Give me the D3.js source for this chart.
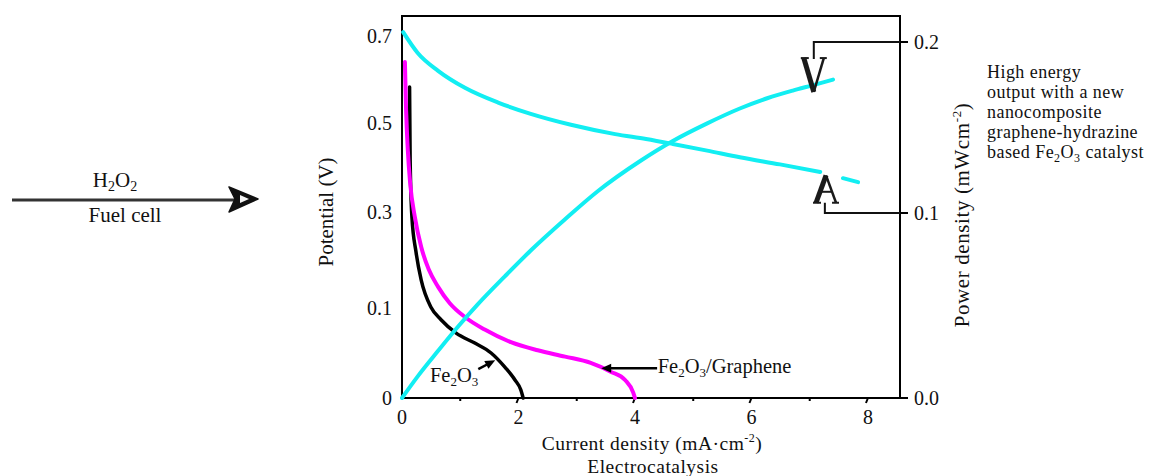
<!DOCTYPE html>
<html>
<head>
<meta charset="utf-8">
<script src="https://cdn.jsdelivr.net/npm/d3@7"></script>
<style>
  body { margin: 0; background: #fff; }
  text { font-family: "Liberation Serif", "Times New Roman", serif; fill: #111; }
</style>
</head>
<body>
<div id="chart"></div>
<script>
// values
var currentTicks = [0, 2, 4, 6, 8];
var potentialTicks = [0, 0.1, 0.3, 0.5, 0.7];
var powerTicks = [0.0, 0.1, 0.2];

// polarization curve (cyan, left axis)
var polCurrent   = [0.02, 0.27, 0.62, 1.08, 1.65, 2.21, 2.90, 3.66, 4.19, 4.65, 5.24, 5.80, 6.49, 7.18];
var polPotential = [0.709, 0.661, 0.620, 0.581, 0.547, 0.521, 0.496, 0.475, 0.464, 0.453, 0.438, 0.423, 0.407, 0.390];
var polTailCurrent   = [7.57, 7.83];
var polTailPotential = [0.376, 0.367];

// power density curve (cyan, right axis)
var powCurrent = [0.0, 0.27, 0.62, 0.96, 1.30, 1.77, 2.21, 2.80, 3.36, 4.09, 4.65, 5.24, 5.80, 6.27, 6.71, 7.06, 7.40];
var powDensity = [0.0, 0.0117, 0.0255, 0.0385, 0.0506, 0.0659, 0.0797, 0.0966, 0.1127, 0.1304, 0.1421, 0.1524, 0.1611, 0.1671, 0.1716, 0.1748, 0.1780];

// Fe2O3/Graphene (magenta)
var grapheneCurrent   = [0.05, 0.07, 0.10, 0.14, 0.22, 0.33, 0.46, 0.62, 0.82, 1.08, 1.42, 1.87, 2.33, 2.80, 3.24, 3.59, 3.83, 3.97, 4.00];
var graphenePotential = [0.640, 0.530, 0.439, 0.365, 0.290, 0.227, 0.180, 0.144, 0.110, 0.090, 0.076, 0.062, 0.053, 0.046, 0.039, 0.029, 0.020, 0.006, 0];

// Fe2O3 (black)
var fe2o3Current   = [0.13, 0.14, 0.17, 0.24, 0.33, 0.50, 0.67, 0.93, 1.25, 1.53, 1.77, 1.94, 2.04, 2.08];
var fe2o3Potential = [0.583, 0.417, 0.290, 0.217, 0.158, 0.101, 0.087, 0.072, 0.061, 0.050, 0.034, 0.020, 0.009, 0];

var W = 1163, H = 476;
var plot = {left: 402, top: 16, width: 498, height: 382};

var svg = d3.select("#chart").append("svg")
    .attr("width", W).attr("height", H);

var x = d3.scaleLinear().domain([0, 8.55]).range([plot.left, plot.left + plot.width]);
// the printed left axis is not evenly spaced, so map each label to where it sits
var yL = d3.scaleLinear().domain(potentialTicks)
    .range([382, 292, 196, 107, 20].map(function(d){ return plot.top + d; }));
var yR = d3.scaleLinear().domain(powerTicks)
    .range([382, 197, 26].map(function(d){ return plot.top + d; }));

function zip(a, b){ return a.map(function(d, i){ return [d, b[i]]; }); }

// rich text with sub/superscripts
function rich(sel, parts, small){
  var shift = 0;
  parts.forEach(function(p){
    var want = p.sub ? 4 : (p.sup ? -8 : 0);
    var ts = sel.append("tspan").attr("dy", want - shift).text(p.t);
    if (p.sub || p.sup) ts.style("font-size", small + "px");
    shift = want;
  });
}

// ---- left decoration: H2O2 fuel cell arrow
var deco = svg.append("g");
deco.append("line")
  .attr("x1", 12).attr("y1", 200).attr("x2", 236).attr("y2", 200)
  .style("stroke", "#333").style("stroke-width", 3);
deco.append("path")
  .attr("d", "M229,187 L258,199 L229,212 L235,199 Z")
  .style("fill", "#111").style("stroke", "#111").style("stroke-width", 1.5)
  .style("stroke-linejoin", "round");
deco.append("path")
  .attr("d", "M240,195 L249,199 L240,203 Z")
  .style("fill", "#f4f4f4");
var h2o2 = deco.append("text").attr("x", 115).attr("y", 187)
  .attr("text-anchor", "middle").style("font-size", "21px");
rich(h2o2, [{t:"H"},{t:"2",sub:true},{t:"O"},{t:"2",sub:true}], 14);
deco.append("text").attr("x", 125).attr("y", 222)
  .attr("text-anchor", "middle").style("font-size", "21px").text("Fuel cell");

// ---- frame
svg.append("rect")
  .attr("x", plot.left).attr("y", plot.top)
  .attr("width", plot.width).attr("height", plot.height)
  .style("fill", "none").style("stroke", "#000").style("stroke-width", 2);

// x ticks (small, below the frame)
svg.append("g").selectAll("line")
  .data(d3.range(1, 9))
  .enter().append("line")
  .attr("x1", function(d){ return x(d); })
  .attr("x2", function(d){ return x(d) - (d % 2 === 0 ? 2 : 0); })
  .attr("y1", plot.top + plot.height)
  .attr("y2", function(d){ return plot.top + plot.height + (d % 2 === 0 ? 5 : 3); })
  .style("stroke", "#000").style("stroke-width", 2);

svg.append("g").selectAll("text")
  .data(currentTicks)
  .enter().append("text")
  .attr("x", function(d){ return x(d); })
  .attr("y", 424)
  .attr("text-anchor", "middle")
  .style("font-size", "20px")
  .text(function(d){ return d; });

// left tick labels
svg.append("g").selectAll("text")
  .data(potentialTicks)
  .enter().append("text")
  .attr("x", 392)
  .attr("y", function(d){ return yL(d); })
  .attr("dy", "0.33em")
  .attr("text-anchor", "end")
  .style("font-size", "20px")
  .text(function(d){ return d; });

// right ticks + labels
svg.append("g").selectAll("line")
  .data(powerTicks)
  .enter().append("line")
  .attr("x1", plot.left + plot.width).attr("x2", plot.left + plot.width + 8)
  .attr("y1", function(d){ return yR(d); }).attr("y2", function(d){ return yR(d); })
  .style("stroke", "#000").style("stroke-width", 2);
svg.append("g").selectAll("text")
  .data(powerTicks)
  .enter().append("text")
  .attr("x", 914)
  .attr("y", function(d){ return yR(d); })
  .attr("dy", "0.33em")
  .style("font-size", "20px")
  .text(function(d){ return d.toFixed(1); });

// axis titles
var xt = svg.append("text").attr("x", 652).attr("y", 450)
  .attr("text-anchor", "middle").style("font-size", "19.5px")
  .style("letter-spacing", "0.5px");
rich(xt, [{t:"Current density (mA·cm"},{t:"-2",sup:true},{t:")"}], 12);
svg.append("text").attr("x", 653).attr("y", 472.5)
  .attr("text-anchor", "middle").style("font-size", "19.5px")
  .style("letter-spacing", "0.5px").text("Electrocatalysis");

svg.append("text")
  .attr("transform", "translate(333,212) rotate(-90)")
  .attr("text-anchor", "middle").style("font-size", "21px")
  .text("Potential (V)");
var rt = svg.append("text")
  .attr("transform", "translate(969,215) rotate(-90)")
  .attr("text-anchor", "middle").style("font-size", "21px")
  .style("letter-spacing", "0.6px");
rich(rt, [{t:"Power density (mWcm"},{t:"-2",sup:true},{t:")"}], 13);

// side note
var note = svg.append("g").style("font-size", "18px").style("letter-spacing", "0.45px");
["High energy", "output with a new", "nanocomposite", "graphene-hydrazine"].forEach(function(s, i){
  note.append("text").attr("x", 987).attr("y", 78 + i * 20).text(s);
});
var last = note.append("text").attr("x", 987).attr("y", 78 + 4 * 20);
rich(last, [{t:"based Fe"},{t:"2",sub:true},{t:"O"},{t:"3",sub:true},{t:" catalyst"}], 12);

// ---- curves
var lineL = d3.line()
  .x(function(d){ return x(d[0]); })
  .y(function(d){ return yL(d[1]); })
  .curve(d3.curveMonotoneX);
var lineR = d3.line()
  .x(function(d){ return x(d[0]); })
  .y(function(d){ return yR(d[1]); })
  .curve(d3.curveMonotoneX);

var curves = svg.append("g").style("fill", "none").style("stroke-linecap", "round");

curves.append("path")
  .attr("d", lineL(zip(fe2o3Current, fe2o3Potential)))
  .style("stroke", "#000").style("stroke-width", 3.5);
curves.append("path")
  .attr("d", lineL(zip(grapheneCurrent, graphenePotential)))
  .style("stroke", "#ff00ff").style("stroke-width", 4);
curves.append("path")
  .attr("d", lineL(zip(polCurrent, polPotential)))
  .style("stroke", "#12eef2").style("stroke-width", 4);
curves.append("path")
  .attr("d", lineL(zip(polTailCurrent, polTailPotential)))
  .style("stroke", "#12eef2").style("stroke-width", 4);
curves.append("path")
  .attr("d", lineR(zip(powCurrent, powDensity)))
  .style("stroke", "#12eef2").style("stroke-width", 4);

// ---- annotations
function arrow(x1, y1, x2, y2){
  var ang = Math.atan2(y2 - y1, x2 - x1);
  svg.append("line")
    .attr("x1", x1).attr("y1", y1)
    .attr("x2", x2 - 6 * Math.cos(ang)).attr("y2", y2 - 6 * Math.sin(ang))
    .style("stroke", "#000").style("stroke-width", 2.5);
  var l = 10, w = 4.5;
  var bx = x2 - l * Math.cos(ang), by = y2 - l * Math.sin(ang);
  svg.append("path")
    .attr("d", "M" + x2 + "," + y2 +
      "L" + (bx + w * Math.sin(ang)) + "," + (by - w * Math.cos(ang)) +
      "L" + (bx - w * Math.sin(ang)) + "," + (by + w * Math.cos(ang)) + "Z")
    .style("fill", "#000");
}

var feLab = svg.append("text").attr("x", x(0.48)).attr("y", yL(0.018))
  .style("font-size", "20.5px");
rich(feLab, [{t:"Fe"},{t:"2",sub:true},{t:"O"},{t:"3",sub:true}], 13);
arrow(x(1.31), yL(0.032), x(1.60), yL(0.042));

var grLab = svg.append("text").attr("x", x(4.39)).attr("y", yL(0.028))
  .style("font-size", "20.5px");
rich(grLab, [{t:"Fe"},{t:"2",sub:true},{t:"O"},{t:"3",sub:true},{t:"/Graphene"}], 13);
arrow(x(4.38), yL(0.033), x(3.42), yL(0.033));

// brackets from arrowheads to the right axis
var bracket = svg.append("g").style("fill", "none").style("stroke", "#111").style("stroke-width", 2);
bracket.append("path")
  .attr("d", "M" + x(7.07) + "," + yR(0.19) + "V" + yR(0.2) + "H" + (plot.left + plot.width));
bracket.append("path")
  .attr("d", "M" + x(7.26) + "," + yR(0.106) + "V" + yR(0.1) + "H" + (plot.left + plot.width));

// serif V-shaped heads (down) and A-shaped heads (up)
function vHead(cx, top, bottom, up){
  var g = svg.append("g").style("stroke", "#1a1a1a").style("fill", "none");
  var hw = 13;
  var t = up ? bottom : top, b = up ? top : bottom;
  g.append("line").attr("x1", cx - hw + 3).attr("y1", t).attr("x2", cx).attr("y2", b)
    .style("stroke-width", 5);
  g.append("line").attr("x1", cx + hw - 3).attr("y1", t).attr("x2", cx).attr("y2", b)
    .style("stroke-width", 2.5);
  g.append("line").attr("x1", cx - hw).attr("y1", t).attr("x2", cx - hw + 8).attr("y2", t)
    .style("stroke-width", 2);
  g.append("line").attr("x1", cx + hw - 7).attr("y1", t).attr("x2", cx + hw).attr("y2", t)
    .style("stroke-width", 2);
  if (up) {
    var m = t + (b - t) * 0.4;
    g.append("line").attr("x1", cx - 6).attr("y1", m).attr("x2", cx + 6).attr("y2", m)
      .style("stroke-width", 2);
  }
}
vHead(x(7.07), yR(0.1906), yR(0.1708), false);
vHead(x(7.28), yR(0.122), yR(0.106), true);
</script>
</body>
</html>
